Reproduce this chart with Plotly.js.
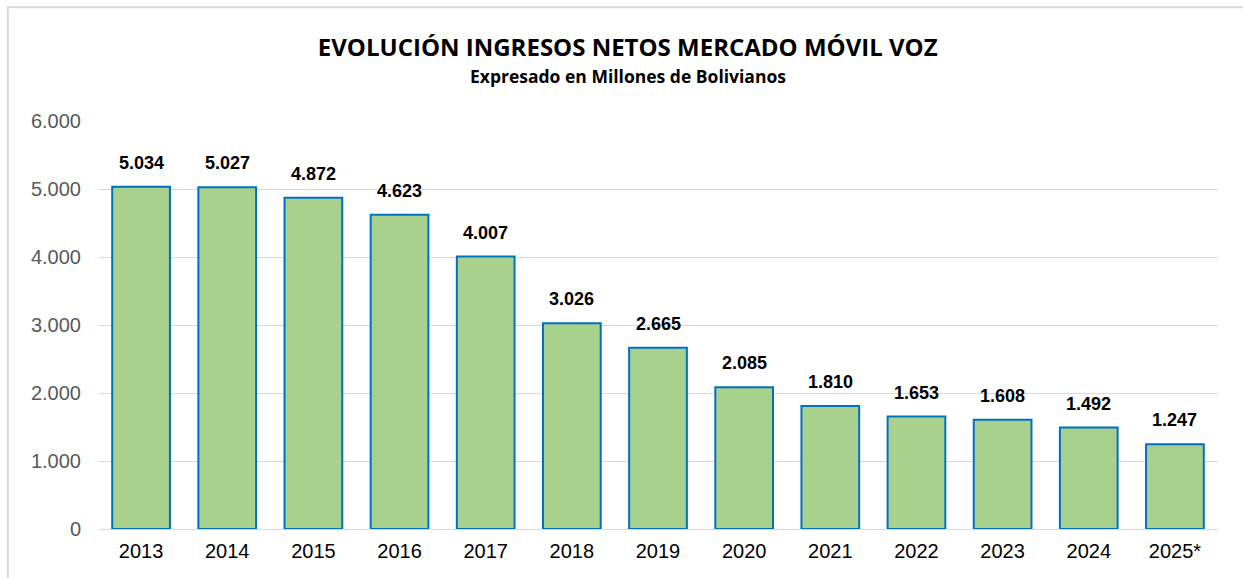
<!DOCTYPE html>
<html>
<head>
<meta charset="utf-8">
<script src="https://cdn.plot.ly/plotly-3.0.1.min.js"></script>
<style>html,body{margin:0;padding:0;background:#fff;}#chart{width:1243px;height:578px;}</style>
</head>
<body>
<div id="chart"></div>
<script>
const years = ["2013","2014","2015","2016","2017","2018","2019","2020","2021","2022","2023","2024","2025*"];
const ingresos = [5034, 5027, 4872, 4623, 4007, 3026, 2665, 2085, 1810, 1653, 1608, 1492, 1247];
const labels = ["5.034","5.027","4.872","4.623","4.007","3.026","2.665","2.085","1.810","1.653","1.608","1.492","1.247"];
const yTicks = [0, 1000, 2000, 3000, 4000, 5000, 6000];
const yTickText = ["0","1.000","2.000","3.000","4.000","5.000","6.000"];

const trace = {
  type: "bar",
  x: years,
  y: ingresos,
  marker: {color: "#A9D18E", line: {color: "#0070C0", width: 2}},
  hoverinfo: "x+y"
};

// category axis: annotation x given as category index
const valueAnnotations = years.map((yr, i) => ({
  x: i, y: ingresos[i], xref: "x", yref: "y",
  text: "<b>" + labels[i] + "</b>",
  showarrow: false, yanchor: "bottom", xanchor: "center", yshift: 12,
  font: {family: "Liberation Sans, Arial, sans-serif", size: 18, color: "#000"}
}));

const layout = {
  width: 1243, height: 578,
  margin: {l: 98, r: 25, t: 121, b: 49},
  paper_bgcolor: "#fff", plot_bgcolor: "#fff",
  bargap: 0.33,
  showlegend: false,
  title: {
    text: "<b>EVOLUCIÓN INGRESOS NETOS MERCADO MÓVIL VOZ</b>",
    font: {family: "Open Sans, Noto Sans, sans-serif", size: 24, color: "#000"},
    x: 0.505, xanchor: "center", y: 0.918, yanchor: "middle", yref: "container"
  },
  annotations: [{
    text: "<b>Expresado en Millones de Bolivianos</b>",
    xref: "paper", yref: "paper", x: 0.473, y: 1.11, xanchor: "center", yanchor: "middle",
    showarrow: false,
    font: {family: "Open Sans, Noto Sans, sans-serif", size: 17.5, color: "#000"}
  }].concat(valueAnnotations),
  xaxis: {
    type: "category",
    categoryorder: "array", categoryarray: years,
    range: [-0.5, years.length - 0.5],
    tickfont: {family: "Liberation Sans, Arial, sans-serif", size: 20, color: "#000"},
    showgrid: false, showline: true, linecolor: "#D9D9D9", linewidth: 1,
    ticks: "", ticklen: 0, ticklabelstandoff: 4, fixedrange: true
  },
  yaxis: {
    range: [0, 6000],
    tickvals: yTicks, ticktext: yTickText,
    tickfont: {family: "Liberation Sans, Arial, sans-serif", size: 20, color: "#595959"},
    showgrid: true, gridcolor: "#D9D9D9", gridwidth: 1,
    zeroline: true, zerolinecolor: "#D9D9D9", zerolinewidth: 1,
    ticks: "", showline: false, fixedrange: true, ticklabelstandoff: 16
  },
  shapes: [{
    type: "rect", xref: "paper", yref: "paper",
    x0: -0.0805, x1: 1.05, y0: -0.3, y1: 1.279,
    line: {color: "#D9D9D9", width: 2}, fillcolor: "rgba(0,0,0,0)", layer: "below"
  }]
};

Plotly.newPlot("chart", [trace], layout, {displayModeBar: false, staticPlot: true});
</script>
</body>
</html>
